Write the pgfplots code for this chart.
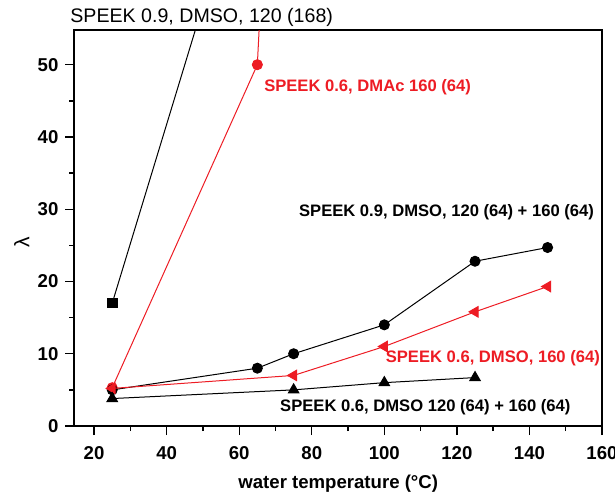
\documentclass[border=0pt]{standalone}
\usepackage{pgfplots}
\pgfplotsset{compat=1.18}
\usepackage{fontspec}
\setmainfont{Liberation Sans}
\definecolor{myred}{RGB}{237,28,36}
\begin{document}
\begin{tikzpicture}
\useasboundingbox (-37.25pt,-33.5pt) rectangle (270.25pt,213pt);
\begin{axis}[
    scale only axis,
    width=263.75pt,
    height=198pt,
    at={(0,0)}, anchor=south west,
    xmin=14.6, xmax=160,
    ymin=0, ymax=54.8,
    xtick={20,40,...,160},
    ytick={0,10,...,50},
    minor x tick num=1,
    minor y tick num=1,
    tick align=outside,
    xtick pos=bottom, ytick pos=left,
    major tick length=4.5pt,
    minor tick length=2.5pt,
    axis line style={line width=1pt},
    every tick/.style={line width=0.7pt, black},
    /pgf/number format/assume math mode=true,
    tick label style={font=\fontsize{9.3}{11}\selectfont\bfseries},
    xticklabel style={yshift=-2pt},
    xlabel={water temperature (°C)},
    xlabel style={at={(axis description cs:0.5,0)}, anchor=center, yshift=-29pt,
        font=\fontsize{9.3}{11}\selectfont\bfseries},
    clip mode=individual,
    every axis plot/.append style={line width=0.5pt},
]
% SPEEK 0.9, DMSO, 120 (168)
\addplot[black, mark=square*, mark size=2.4pt] coordinates {(25,17) (65,83)};
% SPEEK 0.6, DMAc 160 (64)
\addplot[myred, mark=*, mark size=2.5pt] coordinates {(25,5.3) (65,50) (75,150)};
% SPEEK 0.9, DMSO, 120 (64) + 160 (64)
\addplot[black, mark=*, mark size=2.5pt] coordinates {(25,5) (65,8) (75,10) (100,14) (125,22.8) (145,24.7)};
% SPEEK 0.6, DMSO, 160 (64)
\addplot[myred, mark=triangle*, mark size=3pt, mark options={rotate=90}] coordinates {(25,5.2) (75,7) (100,11) (125,15.8) (145,19.3)};
% SPEEK 0.6, DMSO 120 (64) + 160 (64)
\addplot[black, mark=triangle*, mark size=3pt] coordinates {(25,3.8) (75,5) (100,6) (125,6.7)};

\node[rotate=90, font=\fontsize{10.5}{12}\selectfont] at (rel axis cs:-0.1,0.465) {λ};
\node[anchor=west, font=\fontsize{9.8}{12}\selectfont, inner sep=0pt] at (rel axis cs:-0.0085,1.033) {SPEEK 0.9, DMSO, 120 (168)};
\node[anchor=west, text=myred, font=\fontsize{8.3}{10}\selectfont\bfseries, inner sep=0pt] at (axis cs:66.8,46.9) {SPEEK 0.6, DMAc 160 (64)};
\node[anchor=west, font=\fontsize{8.3}{10}\selectfont\bfseries, inner sep=0pt] at (axis cs:76.4,29.6) {SPEEK 0.9, DMSO, 120 (64) + 160 (64)};
\node[anchor=west, text=myred, font=\fontsize{8.3}{10}\selectfont\bfseries, inner sep=0pt] at (axis cs:100.3,9.4) {SPEEK 0.6, DMSO, 160 (64)};
\node[anchor=west, font=\fontsize{8.3}{10}\selectfont\bfseries, inner sep=0pt] at (axis cs:71.2,2.6) {SPEEK 0.6, DMSO 120 (64) + 160 (64)};
\end{axis}
\end{tikzpicture}
\end{document}
